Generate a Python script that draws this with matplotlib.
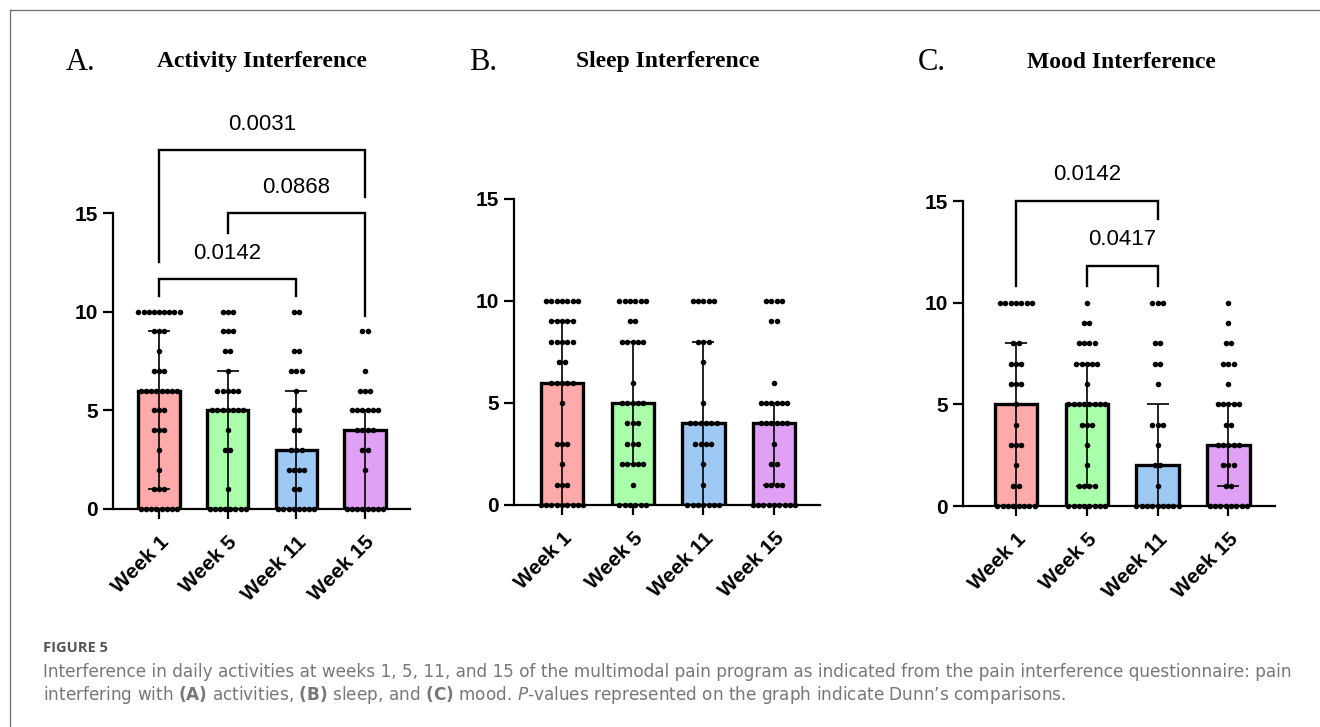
import numpy as np
import matplotlib
matplotlib.use("Agg")
import matplotlib.pyplot as plt
from matplotlib.lines import Line2D

# ---- data: number of patients at each score 0..10 per week ----
weeks = ["Week 1", "Week 5", "Week 11", "Week 15"]
scores = np.arange(0, 11)

activity_counts = [
    [8, 3, 1, 1, 3, 3, 8, 3, 1, 3, 9],
    [8, 1, 0, 2, 1, 7, 5, 1, 2, 3, 3],
    [8, 2, 4, 3, 2, 2, 1, 3, 2, 0, 2],
    [8, 0, 1, 2, 4, 6, 3, 1, 0, 2, 0],
]
sleep_counts = [
    [9, 3, 1, 3, 0, 1, 5, 2, 5, 5, 7],
    [6, 1, 5, 3, 3, 5, 1, 0, 5, 2, 6],
    [7, 1, 1, 4, 6, 1, 0, 1, 3, 0, 5],
    [9, 4, 2, 1, 6, 6, 1, 0, 0, 2, 4],
]
mood_counts = [
    [8, 2, 1, 3, 1, 1, 3, 3, 2, 0, 7],
    [8, 4, 1, 1, 3, 8, 1, 5, 4, 2, 1],
    [9, 1, 2, 1, 3, 0, 1, 2, 2, 0, 3],
    [8, 2, 3, 5, 2, 5, 1, 3, 2, 1, 1],
]

# medians (bar height) and interquartile range (error bars)
activity_median = [6, 5, 3, 4]
activity_iqr = [(1, 9), (0, 7), (0, 6), (0, 5)]
sleep_median = [6, 5, 4, 4]
sleep_iqr = [(0, 9), (2, 8), (0, 8), (1, 5)]
mood_median = [5, 5, 2, 3]
mood_iqr = [(0, 8), (1, 7), (0, 5), (1, 5)]

# Dunn's comparisons: (group a, group b, p-value)
activity_pvals = [(0, 2, "0.0142"), (1, 3, "0.0868"), (0, 3, "0.0031")]
mood_pvals = [(0, 2, "0.0142"), (1, 2, "0.0417")]

bar_colors = ["#FFAAAA", "#AAFFAA", "#9FC9F5", "#E0A0F5"]

W, H = 1320, 727

fig = plt.figure(figsize=(W / 100, H / 100), dpi=100)
fig.patch.set_facecolor("white")


def px_axes(left, right, bottom, top):
    return fig.add_axes([left / W, 1 - bottom / H, (right - left) / W, (bottom - top) / H])


def draw_panel(ax, counts, medians, iqr, xlim):
    pos = np.arange(len(weeks))
    ax.bar(pos, medians, width=0.6, color=bar_colors, edgecolor="black",
           linewidth=2.4, zorder=2)
    lo = [m - r[0] for m, r in zip(medians, iqr)]
    hi = [r[1] - m for m, r in zip(medians, iqr)]
    ax.errorbar(pos, medians, yerr=[lo, hi], fmt="none", ecolor="#111111",
                elinewidth=1.3, capsize=8, capthick=1.3, zorder=3)

    step = 0.075
    for i, row in enumerate(counts):
        for v, n in zip(scores, row):
            if n == 0:
                continue
            xs = pos[i] + (np.arange(n) - (n - 1) / 2) * step
            ax.scatter(xs, np.full(n, v), s=16, color="black", linewidths=0,
                       zorder=4, clip_on=False)

    ax.set_xlim(*xlim)
    ax.set_ylim(0, 20.5)
    for s in ["top", "right"]:
        ax.spines[s].set_visible(False)
    ax.spines["left"].set_bounds(0, 15)
    ax.spines["left"].set_linewidth(1.6)
    ax.spines["bottom"].set_linewidth(1.6)
    ax.set_yticks([0, 5, 10, 15])
    ax.set_yticklabels(["0", "5", "10", "15"], fontsize=15, fontweight="bold",
                       family="Liberation Sans")
    ax.set_xticks(pos)
    ax.set_xticklabels(weeks, fontsize=15, fontweight="bold", family="Liberation Sans",
                       rotation=45, ha="right", rotation_mode="anchor")
    ax.tick_params(axis="both", length=7, width=1.6, direction="out")
    ax.tick_params(axis="y", pad=4)
    ax.tick_params(axis="x", pad=10)
    ax.patch.set_alpha(0)


def draw_brackets(ax, pvals, levels):
    for (a, b, p), (y, ya, yb) in zip(pvals, levels):
        ax.plot([a, a, b, b], [ya, y, y, yb], color="black", lw=1.7,
                clip_on=False, solid_joinstyle="miter", zorder=5)
        ax.text((a + b) / 2, y + 1.3, p, ha="center", va="center", fontsize=16,
                family="Liberation Sans")


axA = px_axes(113, 410, 509, 509 - 20.5 * 19.73)
draw_panel(axA, activity_counts, activity_median, activity_iqr, (-0.67, 3.655))
draw_brackets(axA, activity_pvals, [(11.66, 10.8, 10.8), (15.0, 14.0, 9.8), (18.2, 12.5, 15.8)])

axB = px_axes(514, 820, 505, 505 - 20.5 * 20.4)
draw_panel(axB, sleep_counts, sleep_median, sleep_iqr, (-0.68, 3.65))

axC = px_axes(963, 1275, 506, 506 - 20.5 * 20.33)
draw_panel(axC, mood_counts, mood_median, mood_iqr, (-0.75, 3.66))
draw_brackets(axC, mood_pvals, [(15.0, 10.8, 14.1), (11.8, 10.8, 10.8)])

# panel titles
titles = [(81, "A.", 262, "Activity Interference"),
          (483, "B.", 668, "Sleep Interference"),
          (932, "C.", 1121, "Mood Interference")]
for xl, lab, xt, txt in titles:
    fig.text(xl / W, 1 - 63 / H, lab, fontsize=22, family="Liberation Serif",
             ha="center", va="center")
    fig.text(xt / W, 1 - 62 / H, txt, fontsize=17, fontweight="bold",
             family="Liberation Serif", ha="center", va="center")

# frame (top and left edges visible)
fig.add_artist(Line2D([10 / W, 1], [1 - 10 / H, 1 - 10 / H], color="#777777", lw=1))
fig.add_artist(Line2D([10 / W, 10 / W], [0, 1 - 10 / H], color="#777777", lw=1))

# caption
plt.rcParams["mathtext.fontset"] = "custom"
plt.rcParams["mathtext.it"] = "DejaVu Sans:italic"
plt.rcParams["mathtext.rm"] = "DejaVu Sans"
plt.rcParams["mathtext.bf"] = "DejaVu Sans:bold"
fig.text(43 / W, 1 - 648 / H, "FIGURE 5", fontsize=10.5, fontweight="bold",
         family="Open Sans", color="#555555", va="center")
cap1 = fig.text(43 / W, 1 - 672 / H,
                "Interference in daily activities at weeks 1, 5, 11, and 15 of the multimodal pain "
                "program as indicated from the pain interference questionnaire: pain",
                fontsize=10, family="DejaVu Sans", color="#777777", va="center")
cap2 = fig.text(43 / W, 1 - 695 / H,
                "interfering with $\\mathbf{(A)}$ activities, $\\mathbf{(B)}$ sleep, and "
                "$\\mathbf{(C)}$ mood. $\\mathit{P}$-values represented on the graph indicate "
                "Dunn\u2019s comparisons.",
                fontsize=10, family="DejaVu Sans", color="#777777", va="center")

# fit first caption line to the width of the figure text block
renderer = fig.canvas.get_renderer()
w1 = cap1.get_window_extent(renderer).width
fs = 10 * (1297 - 43) / w1
cap1.set_fontsize(fs)
cap2.set_fontsize(fs)

fig.savefig("out.png", dpi=100)
